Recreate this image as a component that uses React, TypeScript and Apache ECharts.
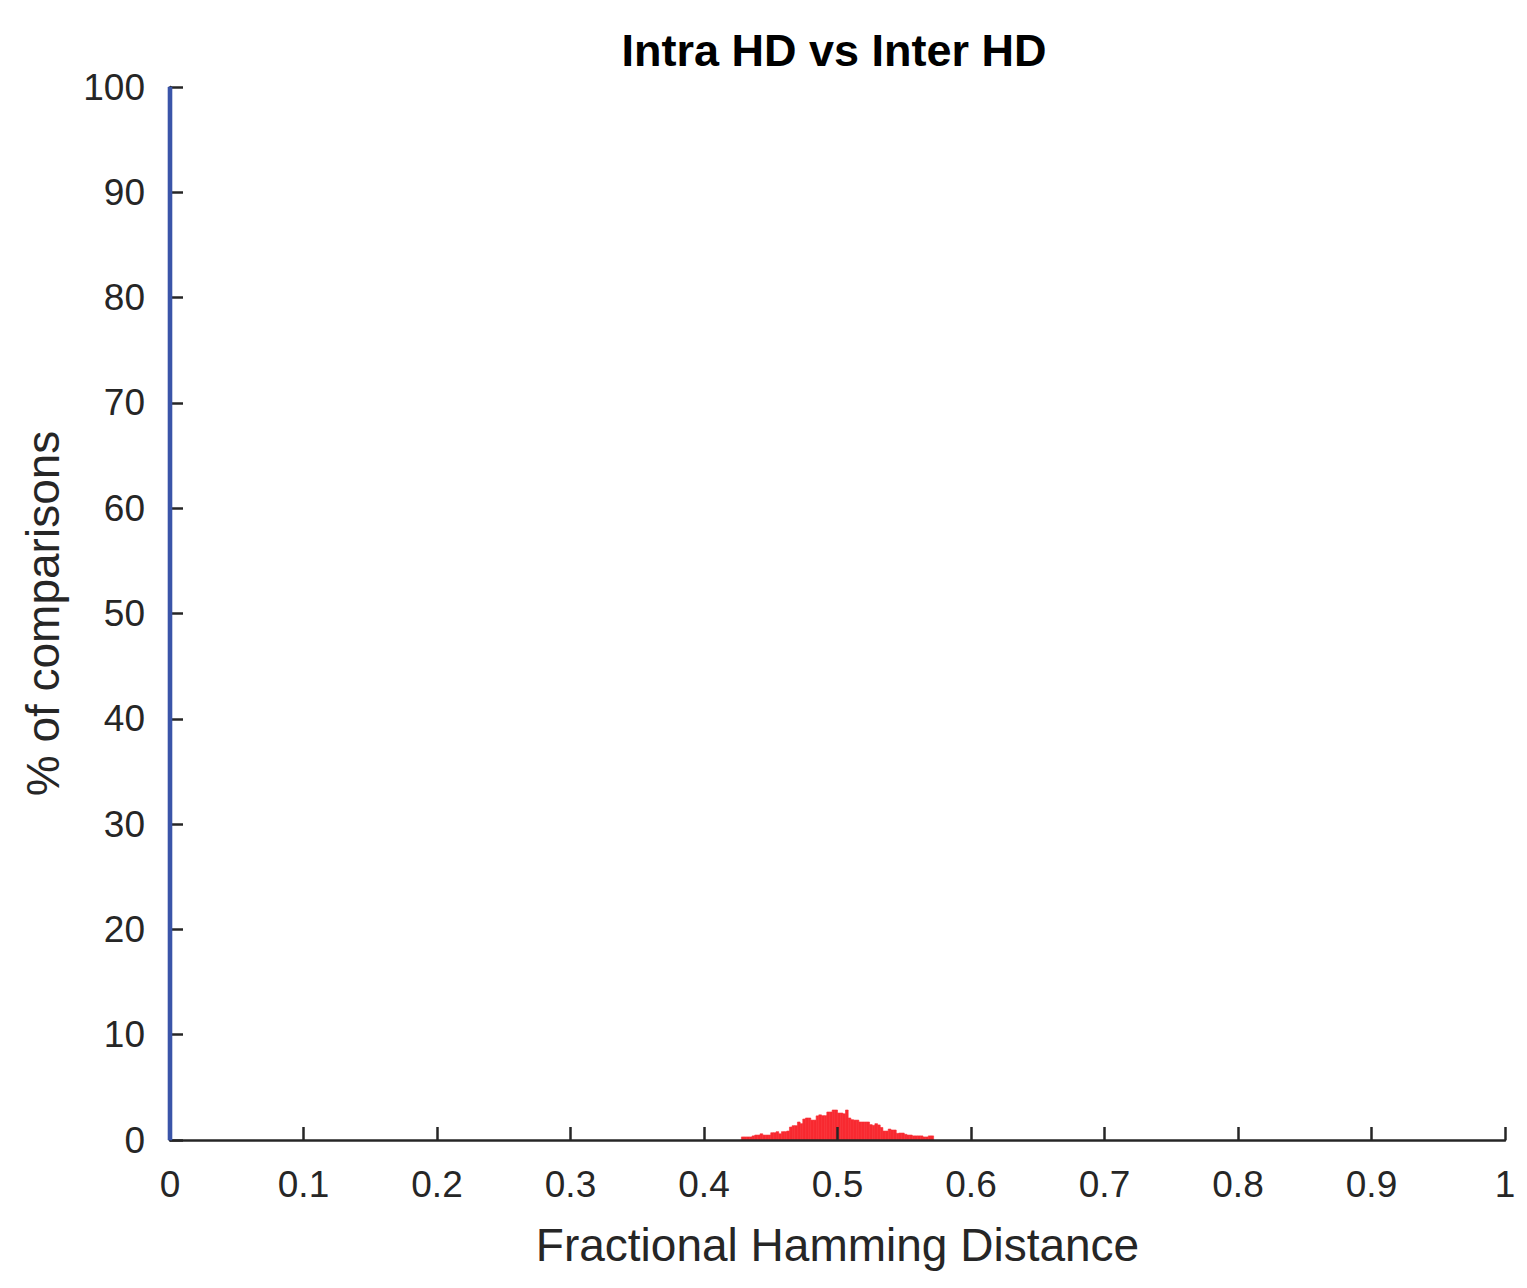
import React, { useEffect, useRef } from "react";
import * as echarts from "echarts";

// Inter HD histogram (red): bins start at interStart, width interWidth
const interStart = 0.428;
const interWidth = 0.002;
const interValues = [
  0.29, 0.29, 0.29, 0.29, 0.39, 0.47, 0.47, 0.59, 0.47, 0.47, 0.47, 0.69,
  0.69, 0.79, 0.59, 0.79, 0.79, 0.85, 1.23, 1.36, 1.36, 1.71, 1.55, 1.99,
  2.09, 2.09, 1.89, 1.89, 2.29, 2.39, 2.31, 2.31, 2.66, 2.66, 2.85, 2.85,
  2.56, 2.56, 2.49, 2.85, 2.09, 1.93, 1.89, 1.89, 1.71, 1.71, 1.71, 1.71,
  1.46, 1.39, 1.55, 1.43, 1.19, 0.85, 0.85, 1.04, 0.95, 0.95, 0.63, 0.66,
  0.66, 0.54, 0.47, 0.47, 0.39, 0.39, 0.39, 0.39, 0.29, 0.29, 0.39, 0.39,
];

// Intra HD histogram (blue): one bin around 0 holding 100%
const intraEdges = [-0.0015, 0.0015];
const intraValues = [100];

const xTicks = [0, 0.1, 0.2, 0.3, 0.4, 0.5, 0.6, 0.7, 0.8, 0.9, 1];
const yTicks = [0, 10, 20, 30, 40, 50, 60, 70, 80, 90, 100];

const FONT = '"Liberation Sans", Arial, Helvetica, sans-serif';
const AXIS = "#262626";

export default function App() {
  const ref = useRef<HTMLDivElement>(null);
  useEffect(() => {
    if (!ref.current) return;
    const chart = echarts.init(ref.current, null, { renderer: "svg" });

    const interData = interValues.map((v, i) => [
      interStart + i * interWidth,
      interStart + (i + 1) * interWidth,
      v,
    ]);
    const intraData = intraValues.map((v, i) => [intraEdges[i], intraEdges[i + 1], v]);

    const renderBin = (color: string) => (params: any, api: any) => {
      const x0 = api.value(0);
      const x1 = api.value(1);
      const h = api.value(2);
      const p0 = api.coord([x0, h]);
      const p1 = api.coord([x1, 0]);
      return {
        type: "rect",
        shape: { x: p0[0], y: p0[1], width: p1[0] - p0[0], height: p1[1] - p0[1] },
        style: { fill: color, stroke: color, lineWidth: 0.6 },
      };
    };

    chart.setOption({
      animation: false,
      backgroundColor: "#ffffff",
      graphic: [
        {
          type: "text",
          x: 834,
          y: 50,
          style: {
            text: "Intra HD vs Inter HD",
            font: `bold 45px ${FONT}`,
            fill: "#000000",
            textAlign: "center",
            textVerticalAlign: "middle",
          },
        },
      ],
      grid: { left: 170, right: 22, top: 87, bottom: 148, containLabel: false },
      xAxis: {
        type: "value",
        min: xTicks[0],
        max: xTicks[xTicks.length - 1],
        interval: 0.1,
        z: 3,
        name: "Fractional Hamming Distance",
        nameLocation: "middle",
        nameGap: 82,
        nameTextStyle: { fontFamily: FONT, fontSize: 46, color: AXIS },
        axisLine: { show: true, onZero: false, lineStyle: { color: AXIS, width: 2.5 } },
        axisTick: { show: true, inside: true, length: 13, lineStyle: { color: AXIS, width: 2.5 } },
        axisLabel: {
          fontFamily: FONT,
          fontSize: 37,
          color: AXIS,
          margin: 26,
          formatter: (v: number) => String(Math.round(v * 10) / 10),
        },
        splitLine: { show: false },
      },
      yAxis: {
        type: "value",
        min: yTicks[0],
        max: yTicks[yTicks.length - 1],
        interval: 10,
        name: "% of comparisons",
        nameLocation: "middle",
        nameGap: 104,
        nameTextStyle: { fontFamily: FONT, fontSize: 46, color: AXIS },
        axisLine: { show: true, onZero: false, lineStyle: { color: AXIS, width: 2.5 } },
        axisTick: { show: true, inside: true, length: 13, lineStyle: { color: AXIS, width: 2.5 } },
        axisLabel: { fontFamily: FONT, fontSize: 37, color: AXIS, margin: 25 },
        splitLine: { show: false },
      },
      series: [
        {
          type: "custom",
          name: "Inter HD",
          renderItem: renderBin("#f82a31"),
          encode: { x: [0, 1], y: 2 },
          data: interData,
          z: 2,
        },
        {
          type: "custom",
          name: "Intra HD",
          renderItem: renderBin("#3a55a9"),
          encode: { x: [0, 1], y: 2 },
          data: intraData,
          clip: false,
          z: 4,
        },
      ],
    });
    return () => chart.dispose();
  }, []);

  return (
    <div
      ref={ref}
      style={{ position: "fixed", left: 0, top: 0, width: 1527, height: 1288, background: "#fff" }}
    />
  );
}
